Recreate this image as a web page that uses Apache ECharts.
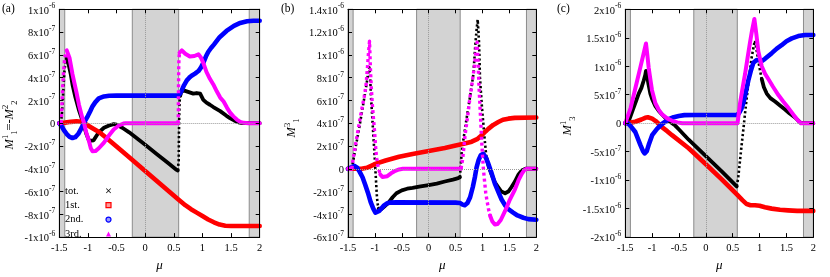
<!DOCTYPE html>
<html><head><meta charset="utf-8">
<script src="https://cdn.jsdelivr.net/npm/echarts@6/dist/echarts.min.js"></script>
<style>html,body{margin:0;padding:0;background:#fff}#c{width:830px;height:277px}</style>
</head><body><div id="c"></div>
<script>
// ---------- tick labels ----------
const xTicks = ['-1.5','-1','-0.5','0','0.5','1','1.5','2'];
const aYTicks = ['-1x10^-6','-8x10^-7','-6x10^-7','-4x10^-7','-2x10^-7','0','2x10^-7','4x10^-7','6x10^-7','8x10^-7','1x10^-6'];
const bYTicks = ['-6x10^-7','-4x10^-7','-2x10^-7','0','2x10^-7','4x10^-7','6x10^-7','8x10^-7','1x10^-6','1.2x10^-6','1.4x10^-6'];
const cYTicks = ['-2x10^-6','-1.5x10^-6','-1x10^-6','-5x10^-7','0','5x10^-7','1x10^-6','1.5x10^-6','2x10^-6'];
const bands = [[-1.5,-1.405],[-0.225,0.585],[1.817,2]];
const legendNames = ['tot.','1st.','2nd.','3rd.'];

// ---------- data: [mu, value in units of 1e-7]; null = gap ----------
// panel (a)  M^1_1 = -M^2_2
const aTot = [[-1.5,0],[-1.47,0],null,[-1.37,5.7],[-1.33,5.0],[-1.3,4.3],[-1.27,3.4],[-1.22,2.3],[-1.16,1.2],[-1.1,0.3],[-1.07,-0.2],[-1.03,-0.9],[-0.98,-1.55],[-0.95,-1.68],[-0.9,-1.5],[-0.85,-1.1],[-0.81,-0.8],[-0.72,-0.4],[-0.63,-0.2],[-0.55,-0.08],[-0.5,-0.12],[-0.4,-0.4],[-0.28,-0.8],[0,-1.9],[0.2,-2.7],[0.4,-3.5],[0.55,-4.1],[0.57,-4.15],null,[0.61,2.4],[0.63,2.75],[0.67,2.88],[0.75,2.75],[0.84,2.6],[0.9,2.65],[0.93,2.75],[0.96,2.6],[1.015,2.05],[1.07,1.8],[1.13,1.62],[1.19,1.42],[1.31,1.06],[1.42,0.65],[1.48,0.45],[1.56,0.22],[1.63,0.08],[1.7,0.01],[1.75,0],[2,0]];
const aTotSp = [[-1.47,0],[-1.455,0.8],[-1.44,1.9],[-1.425,3.3],[-1.41,4.6],[-1.39,5.4],[-1.37,5.7],null,[0.57,-4.15],[0.585,-3.3],[0.587,-2.3],[0.59,-0.8],[0.595,0.7],[0.6,1.8],[0.61,2.4]];
const a1st = [[-1.5,0],[-1.4,0.05],[-1.3,0.12],[-1.2,0.16],[-1.15,0.15],[-1.1,0.08],[-1.04,-0.07],[-0.95,-0.35],[-0.8,-0.8],[-0.65,-1.4],[-0.5,-2.05],[-0.3,-2.9],[0,-4.2],[0.3,-5.5],[0.58,-6.7],[0.7,-7.2],[0.8,-7.55],[0.9,-7.85],[1.0,-8.15],[1.1,-8.45],[1.2,-8.7],[1.3,-8.9],[1.4,-9.0],[1.5,-9.02],[2,-9.02]];
const a2nd = [[-1.5,0],[-1.46,-0.25],[-1.42,-0.6],[-1.37,-0.95],[-1.32,-1.2],[-1.27,-1.3],[-1.22,-1.22],[-1.17,-0.95],[-1.12,-0.5],[-1.08,-0.1],[-1.04,0.3],[-1.0,0.65],[-0.96,1.05],[-0.92,1.48],[-0.87,1.85],[-0.81,2.18],[-0.72,2.35],[-0.63,2.41],[-0.5,2.42],[0.58,2.42],[0.61,2.6],[0.64,2.9],[0.68,3.35],[0.725,3.74],[0.77,4.0],[0.81,4.16],[0.87,4.35],[0.93,4.58],[0.97,4.85],[1.015,5.3],[1.06,5.85],[1.1,6.25],[1.15,6.6],[1.2,6.9],[1.3,7.55],[1.42,8.1],[1.55,8.55],[1.66,8.8],[1.78,8.95],[1.89,9.0],[2,9.0]];
const a3rd = [[-1.5,0],[-1.47,0],null,[-1.37,6.4],[-1.35,6.35],[-1.32,5.7],[-1.27,4.3],[-1.2,2.7],[-1.156,1.6],[-1.1,0.5],[-1.07,0.07],[-1.03,-0.8],[-0.98,-1.6],[-0.95,-2.2],[-0.92,-2.47],[-0.87,-2.45],[-0.81,-2.2],[-0.72,-1.7],[-0.63,-1.06],[-0.55,-0.55],[-0.46,-0.2],[-0.38,-0.03],[-0.34,0],[0.575,0],null,[0.6,6.2],[0.64,6.4],[0.7,6.1],[0.78,5.85],[0.86,5.9],[0.93,6.05],[0.97,5.8],[1.015,5.3],[1.07,4.5],[1.13,3.9],[1.19,3.4],[1.25,2.8],[1.31,2.25],[1.37,1.9],[1.43,1.35],[1.48,0.95],[1.54,0.6],[1.6,0.32],[1.66,0.12],[1.72,0.03],[1.8,0],[2,0]];
const a3rdSp = [[-1.47,0],[-1.46,0.9],[-1.45,2.0],[-1.44,3.3],[-1.425,4.5],[-1.41,5.5],[-1.39,6.1],[-1.37,6.4],null,[0.575,0],[0.58,0.9],[0.58,2.1],[0.583,3.45],[0.586,4.9],[0.59,5.7],[0.6,6.2]];

// panel (b)  M^3_1
const bTot = [[-1.5,0],[-1.43,0],null,[-0.93,-3.5],[-0.92,-3.6],[-0.88,-3.55],[-0.82,-3.3],[-0.75,-3.0],[-0.67,-2.5],[-0.6,-2.15],[-0.5,-1.9],[-0.4,-1.75],[-0.3,-1.68],[-0.15,-1.55],[0,-1.43],[0.15,-1.3],[0.3,-1.12],[0.45,-0.95],[0.55,-0.82],[0.58,-0.75],null,[1.077,0.9],[1.12,0.1],[1.17,-0.5],[1.23,-1.2],[1.29,-1.6],[1.35,-2.0],[1.42,-2.15],[1.48,-2.0],[1.54,-1.6],[1.6,-1.15],[1.67,-0.5],[1.73,-0.15],[1.8,0],[2,0]];
const bTotSp = [[-1.43,0],[-1.38,1.3],[-1.33,2.6],[-1.28,3.9],[-1.23,5.3],[-1.18,6.7],[-1.14,7.9],[-1.12,8.6],[-1.1,8.9],[-1.085,7.7],[-1.073,6.3],[-1.055,5.0],[-1.04,3.8],[-1.025,2.6],[-1.01,1.5],[-0.99,-0.16],[-0.98,-1.0],[-0.97,-1.85],[-0.96,-2.6],[-0.945,-3.2],[-0.93,-3.5],null,[0.58,-0.75],[0.61,1.25],[0.64,2.4],[0.675,3.5],[0.72,4.9],[0.768,6.3],[0.8,7.3],[0.83,8.3],[0.85,9.7],[0.87,11.1],[0.89,12.2],[0.91,13.1],[0.925,12.0],[0.935,11.1],[0.945,9.5],[0.953,8.0],[0.97,6.8],[0.985,5.7],[1.0,4.8],[1.015,4.0],[1.03,3.1],[1.046,2.3],[1.06,1.6],[1.077,0.9]];
const b1st = [[-1.5,0],[-1.25,0],[-1.15,0.08],[-1.05,0.3],[-0.98,0.45],[-0.8,0.72],[-0.55,1.05],[-0.3,1.3],[0,1.55],[0.3,1.83],[0.5,2.05],[0.65,2.2],[0.8,2.38],[0.9,2.6],[0.985,2.94],[1.05,3.25],[1.108,3.5],[1.2,3.85],[1.294,4.1],[1.38,4.3],[1.48,4.4],[1.6,4.47],[2,4.5]];
const b2nd = [[-1.5,0],[-1.43,0.15],[-1.38,0.25],[-1.33,0.1],[-1.28,-0.3],[-1.23,-0.75],[-1.18,-1.4],[-1.13,-2.1],[-1.08,-2.9],[-1.03,-3.5],[-0.99,-3.85],[-0.96,-3.88],[-0.92,-3.7],[-0.84,-3.26],[-0.78,-3.05],[-0.72,-2.97],[-0.6,-2.95],[0.5,-2.97],[0.58,-3.0],[0.63,-3.15],[0.67,-3.2],[0.72,-3.0],[0.77,-2.5],[0.82,-1.6],[0.86,-0.7],[0.89,0.13],[0.93,0.8],[0.97,1.2],[1.015,1.3],[1.06,1.0],[1.108,0.45],[1.17,-0.4],[1.23,-1.3],[1.3,-2.1],[1.355,-2.7],[1.42,-3.2],[1.48,-3.55],[1.57,-3.85],[1.65,-4.1],[1.76,-4.3],[1.85,-4.42],[2,-4.48]];
const b3rd = [[-1.5,0],[-1.43,0],null,[-0.9,-0.5],[-0.86,-0.72],[-0.825,-0.8],[-0.77,-0.65],[-0.7,-0.4],[-0.62,-0.18],[-0.55,-0.06],[-0.48,0],[0.6,0],null,[1.14,-4.1],[1.18,-4.6],[1.23,-4.9],[1.28,-4.85],[1.34,-4.5],[1.42,-3.7],[1.5,-2.8],[1.6,-1.85],[1.67,-1.0],[1.73,-0.44],[1.78,-0.1],[1.82,0],[2,0]];
const b3rdSp = [[-1.43,0],[-1.4,1.0],[-1.36,2.1],[-1.32,3.2],[-1.28,4.3],[-1.24,5.3],[-1.2,6.3],[-1.165,7.3],[-1.14,8.8],[-1.12,10.1],[-1.1,11.2],[-1.09,9.8],[-1.08,8.4],[-1.065,7.0],[-1.05,5.8],[-1.03,4.6],[-1.01,3.5],[-0.995,2.5],[-0.98,1.5],[-0.965,0.9],[-0.95,0.4],[-0.925,-0.1],[-0.9,-0.5],null,[0.6,0],[0.63,0.8],[0.65,1.7],[0.675,2.9],[0.7,3.8],[0.735,5.0],[0.768,6.3],[0.8,7.3],[0.83,8.3],[0.85,9.0],[0.87,10.0],[0.885,10.8],[0.9,11.1],[0.915,9.8],[0.925,8.4],[0.935,7.2],[0.953,5.5],[0.97,3.9],[0.985,2.4],[1.0,1.2],[1.015,0.1],[1.03,-0.7],[1.045,-1.4],[1.06,-2.1],[1.08,-2.7],[1.11,-3.5],[1.14,-4.1]];

// panel (c)  M^1_3
const cTot = [[-1.5,0],[-1.45,0],[-1.4,1.3],[-1.35,2.6],[-1.3,3.9],[-1.25,5.2],[-1.2,6.2],[-1.157,7.5],[-1.13,8.4],[-1.115,9.2],[-1.095,8.4],[-1.07,6.9],[-1.034,5.2],[-1.0,4.2],[-0.94,3.0],[-0.88,2.2],[-0.817,1.55],[-0.75,0.9],[-0.69,0.4],[-0.63,0.0],[-0.57,-0.42],[-0.5,-1.1],[-0.32,-2.9],[0,-5.8],[0.3,-8.5],[0.574,-11.1],null,[1.04,7.75],[1.08,6.3],[1.133,5.2],[1.2,4.4],[1.288,3.8],[1.38,3.1],[1.474,2.4],[1.56,1.7],[1.66,1.0],[1.72,0.45],[1.76,0.1],[1.8,0],[2,0]];
const cTotSp = [[0.574,-11.1],[0.59,-10.3],[0.604,-9.4],[0.635,-6.6],[0.666,-3.8],[0.7,-0.9],[0.73,1.8],[0.76,4.4],[0.79,6.9],[0.82,9.2],[0.85,11.4],[0.88,13.0],[0.9,14.0],[0.915,14.5],[0.945,12.8],[0.977,10.9],[1.01,9.2],[1.04,7.75]];
const c1st = [[-1.5,0],[-1.4,0.1],[-1.314,0.25],[-1.2,0.65],[-1.13,0.95],[-1.08,1.05],[-1.0,0.8],[-0.94,0.42],[-0.88,-0.1],[-0.817,-0.7],[-0.72,-1.4],[-0.63,-2.1],[-0.32,-4.4],[0,-7.2],[0.3,-9.9],[0.586,-12.6],[0.68,-13.5],[0.76,-14.2],[0.83,-14.4],[0.915,-14.4],[1.0,-14.5],[1.1,-14.75],[1.226,-15.0],[1.38,-15.2],[1.53,-15.3],[1.7,-15.4],[2,-15.4]];
const c2nd = [[-1.5,0],[-1.45,0],[-1.4,-0.5],[-1.314,-1.55],[-1.22,-3.8],[-1.17,-4.9],[-1.14,-5.3],[-1.1,-4.9],[-1.064,-3.8],[-1.0,-2.1],[-0.91,-1.0],[-0.817,-0.14],[-0.69,0.7],[-0.6,1.05],[-0.506,1.27],[-0.4,1.42],[-0.2,1.45],[0.58,1.45],[0.62,1.8],[0.66,2.5],[0.697,3.5],[0.74,5.3],[0.79,7.5],[0.84,9.3],[0.884,10.6],[0.946,11.1],[0.99,11.05],[1.04,10.9],[1.1,11.3],[1.226,12.3],[1.32,13.1],[1.41,13.7],[1.5,14.4],[1.6,14.9],[1.72,15.3],[1.846,15.5],[2,15.5]];
const c3rd = [[-1.5,0],[-1.47,0],[-1.4,2.7],[-1.314,6.1],[-1.22,9.8],[-1.16,12.2],[-1.115,14.0],[-1.09,12.0],[-1.064,9.7],[-1.03,7.5],[-1.003,5.8],[-0.94,3.5],[-0.88,2.4],[-0.817,1.55],[-0.72,0.85],[-0.63,0.42],[-0.53,0.15],[-0.44,0],[0.59,0],[0.636,3.5],[0.68,6.0],[0.729,8.6],[0.775,11.4],[0.822,14.2],[0.86,16.3],[0.903,18.3],[0.94,15.6],[0.977,12.6],[1.04,10.0],[1.1,8.7],[1.163,7.75],[1.25,6.4],[1.35,4.94],[1.44,3.8],[1.535,2.7],[1.63,1.5],[1.72,0.42],[1.77,0],[2,0]];
const c3rdSp = [];

// ---------- build ----------
const FONT = '"Liberation Serif","DejaVu Serif",serif';
const COLORS = {tot:'#000000', s1:'#ff0000', s2:'#0000ff', s3:'#ff00ff'};
const panels = [
  {left:59.3, width:200.4, yMin:-10, yMax:10, yInt:2, yTicks:aYTicks, tot:aTot, totSp:aTotSp, s1:a1st, s2:a2nd, s3:a3rd, s3Sp:a3rdSp,
   label:'(a)', labelX:2, title:'{m|M}{p|1}{q|1}{n|=-}{m|M}{p|2}{q|2}', titleX:10, titleY:125},
  {left:348, width:188.3, yMin:-6, yMax:14, yInt:2, yTicks:bYTicks, tot:bTot, totSp:bTotSp, s1:b1st, s2:b2nd, s3:b3rd, s3Sp:b3rdSp,
   label:'(b)', labelX:281, title:'{m|M}{p|3}{q|1}', titleX:292, titleY:128},
  {left:625.3, width:188, yMin:-20, yMax:20, yInt:5, yTicks:cYTicks, tot:cTot, totSp:cTotSp, s1:c1st, s2:c2nd, s3:c3rd, s3Sp:c3rdSp,
   label:'(c)', labelX:557, title:'{m|M}{p|1}{q|3}', titleX:568, titleY:126}
];
const TOP = 9.3, HEIGHT = 236.4;
function prep(arr){ return arr.map(p => p === null ? ['-','-'] : [p[0], p[1]]); }
function yFmt(p){
  return function(v){
    const i = Math.round((v - p.yMin) / p.yInt);
    const t = p.yTicks[i];
    if (t === undefined) return '';
    if (t.indexOf('^') < 0) return '{b|' + t + '}';
    const parts = t.split('^');
    return '{b|' + parts[0] + '}{s|' + parts[1] + '}';
  };
}
const yRich = {
  b:{fontFamily:FONT, fontSize:10.5, color:'#000', verticalAlign:'bottom', lineHeight:14},
  s:{fontFamily:FONT, fontSize:7.5, color:'#000', verticalAlign:'top', lineHeight:14}
};
const crossPath = 'path://M0,1L1,0L5,4L9,0L10,1L6,5L10,9L9,10L5,6L1,10L0,9L4,5Z';

const grid = [], xAxis = [], yAxis = [], series = [], graphic = [];
panels.forEach((p, gi) => {
  grid.push({left:p.left, top:TOP, width:p.width, height:HEIGHT, containLabel:false});
  const xBase = {gridIndex:gi, type:'value', min:-1.5, max:2, interval:0.5, z:5,
    axisLine:{show:true, onZero:false, lineStyle:{color:'#000', width:1}},
    axisTick:{show:true, inside:true, length:4, lineStyle:{color:'#000', width:1}},
    splitLine:{show:false}};
  xAxis.push(Object.assign({}, xBase, {position:'bottom',
    axisLabel:{show:true, margin:6, fontFamily:FONT, fontSize:10.5, color:'#000',
      formatter:v => xTicks[Math.round((v + 1.5) / 0.5)]},
    name:'μ', nameLocation:'middle', nameGap:17,
    nameTextStyle:{fontFamily:FONT, fontSize:13, fontStyle:'italic', color:'#000'}}));
  xAxis.push(Object.assign({}, xBase, {position:'top', axisLabel:{show:false}}));
  const yBase = {gridIndex:gi, type:'value', min:p.yMin, max:p.yMax, interval:p.yInt, z:5,
    axisLine:{show:true, onZero:false, lineStyle:{color:'#000', width:1}},
    axisTick:{show:true, inside:true, length:4, lineStyle:{color:'#000', width:1}},
    splitLine:{show:false}};
  yAxis.push(Object.assign({}, yBase, {position:'left',
    axisLabel:{show:true, margin:4, formatter:yFmt(p), rich:yRich}}));
  yAxis.push(Object.assign({}, yBase, {position:'right', axisLabel:{show:false}}));

  const xi = gi * 2, yi = gi * 2;
  // background bands and dotted zero lines
  series.push({type:'line', xAxisIndex:xi, yAxisIndex:yi, data:[[-1.5,0],[2,0]], z:1, silent:true,
    symbol:'none', lineStyle:{opacity:0}, animation:false,
    markArea:{silent:true, itemStyle:{color:'#d3d3d3', borderColor:'#8c8c8c', borderWidth:1},
      data: bands.map(b => [{xAxis:b[0]}, {xAxis:b[1]}])},
    markLine:{silent:true, symbol:'none', label:{show:false},
      lineStyle:{type:'dotted', color:'#9a9a9a', width:1},
      data:[{yAxis:0}, {xAxis:0}]}});
  const mk = (name, data, color, width, dash) => ({
    type:'line', name:name, xAxisIndex:xi, yAxisIndex:yi, data:prep(data), z:2,
    symbol:'none', showSymbol:false, silent:true, animation:false, connectNulls:false,
    itemStyle:{color:color},
    lineStyle:{color:color, width:width, cap: dash ? 'butt' : 'round', join:'round', type: dash || 'solid'}
  });
  series.push(mk('tot.', p.tot, COLORS.tot, 3.8));
  if (p.totSp.length) series.push(mk('tot-sparse', p.totSp, COLORS.tot, 2.6, [2.2, 2.4]));
  series.push(mk('1st.', p.s1, COLORS.s1, 4.6));
  series.push(mk('2nd.', p.s2, COLORS.s2, 4.6));
  series.push(mk('3rd.', p.s3, COLORS.s3, 4));
  if (p.s3Sp.length) series.push(mk('3rd-sparse', p.s3Sp, COLORS.s3, 3.4, [3, 3]));

  graphic.push({type:'text', left:p.labelX, top:3, silent:true,
    style:{text:p.label, fontFamily:FONT, fontSize:11.5, fill:'#000'}});
  graphic.push({type:'text', x:p.titleX, y:p.titleY, rotation:Math.PI/2, silent:true,
    style:{text:p.title, align:'center', verticalAlign:'middle',
      rich:{
        m:{fontFamily:FONT, fontSize:12.5, fontStyle:'italic', fill:'#000', color:'#000', verticalAlign:'middle', lineHeight:18},
        n:{fontFamily:FONT, fontSize:12.5, fill:'#000', color:'#000', verticalAlign:'middle', lineHeight:18},
        p:{fontFamily:FONT, fontSize:8.5, fill:'#000', color:'#000', verticalAlign:'top', lineHeight:18},
        q:{fontFamily:FONT, fontSize:8.5, fill:'#000', color:'#000', verticalAlign:'bottom', lineHeight:18}
      }}});
});

const legendIcons = [
  {icon:crossPath, itemStyle:{color:'#000', borderWidth:0}},
  {icon:'rect', itemStyle:{color:'#ff9a9a', borderColor:'#ff0000', borderWidth:1.2}},
  {icon:'circle', itemStyle:{color:'#9a9aff', borderColor:'#0000ff', borderWidth:1.2}},
  {icon:'triangle', itemStyle:{color:'#ff00ff', borderWidth:0}}
];

const option = {
  animation:false,
  backgroundColor:'#ffffff',
  grid:grid, xAxis:xAxis, yAxis:yAxis, series:series, graphic:graphic,
  legend:{left:65, top:185, orient:'vertical', align:'right', itemGap:2.9, itemWidth:5, itemHeight:5,
    padding:0, selectedMode:false,
    formatter: n => '{t|' + n + '}',
    textStyle:{fontFamily:FONT, fontSize:10.5, color:'#000', lineHeight:11.5,
      rich:{t:{width:36, align:'left', fontFamily:FONT, fontSize:10.5, color:'#000', lineHeight:11.5}}},
    data: legendNames.map((n, i) => Object.assign({name:n}, legendIcons[i]))}
};
const chart = echarts.init(document.getElementById('c'), null, {renderer:'canvas'});
chart.setOption(option);
</script></body></html>
